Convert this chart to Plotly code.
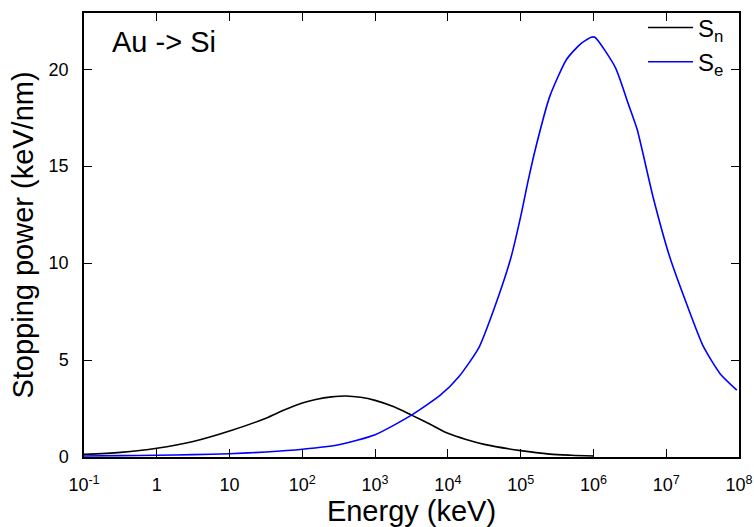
import plotly.graph_objects as go

# Energy values (keV) as log10 exponents and stopping powers (keV/nm)
sn_logE = [-1.0, -0.5, 0.0, 0.5, 1.0, 1.5, 1.75, 2.0, 2.2, 2.4, 2.6, 2.8, 3.0, 3.25, 3.5, 3.75, 4.0, 4.25, 4.5,
           5.0, 5.4, 5.7, 6.0]
sn_vals = [0.14, 0.24, 0.45, 0.8, 1.34, 2.0, 2.42, 2.78, 2.98, 3.1, 3.15, 3.08, 2.92, 2.6, 2.16, 1.7, 1.22, 0.9,
           0.65, 0.33, 0.15, 0.09, 0.05]

se_logE = [-1.0, -0.5, 0.0, 0.5, 1.0, 1.5, 2.0, 2.5, 3.0, 3.5, 3.9, 4.15, 4.42, 4.63, 4.86, 5.0, 5.1, 5.21,
           5.4, 5.63, 5.82, 5.97, 6.02, 6.3, 6.48, 6.6, 6.82, 7.05, 7.28, 7.51, 7.74, 7.97]
se_vals = [0.05, 0.07, 0.09, 0.12, 0.17, 0.26, 0.40, 0.63, 1.15, 2.16, 3.2, 4.14, 5.6, 7.6, 10.2, 12.4, 14.2, 16.0,
           18.6, 20.5, 21.3, 21.65, 21.65, 20.1, 18.2, 16.9, 13.4, 10.3, 7.9, 5.7, 4.3, 3.45]

x_tickvals = [0.1, 1, 10, 100, 1e3, 1e4, 1e5, 1e6, 1e7, 1e8]
x_ticktext = ["10<sup>-1</sup>", "1", "10", "10<sup>2</sup>", "10<sup>3</sup>", "10<sup>4</sup>",
              "10<sup>5</sup>", "10<sup>6</sup>", "10<sup>7</sup>", "10<sup>8</sup>"]
y_tickvals = [0, 5, 10, 15, 20]

sn_E = [10 ** v for v in sn_logE]
se_E = [10 ** v for v in se_logE]

FONT = "Liberation Sans, Arial, Helvetica, sans-serif"

fig = go.Figure()
fig.add_trace(go.Scatter(x=sn_E, y=sn_vals, mode="lines", name="S<sub>n</sub>",
                         line=dict(color="black", width=1.6, shape="spline", smoothing=0.8)))
fig.add_trace(go.Scatter(x=se_E, y=se_vals, mode="lines", name="S<sub>e</sub>",
                         line=dict(color="#0000ff", width=1.6, shape="spline", smoothing=0.6)))

fig.update_layout(
    width=754, height=527,
    margin=dict(l=83.5, r=15, t=13, b=70, autoexpand=False),
    paper_bgcolor="white", plot_bgcolor="white",
    font=dict(family=FONT, color="black", size=18),
    showlegend=True,
    legend=dict(x=0.8535, y=1.017, xanchor="left", yanchor="top", bgcolor="rgba(0,0,0,0)",
                font=dict(size=24, family=FONT), tracegroupgap=0, itemwidth=45),
    annotations=[dict(text="Au -> Si", x=0.04, y=0.935, xref="paper", yref="paper",
                      xanchor="left", yanchor="middle", showarrow=False,
                      font=dict(size=29, family=FONT))],
)
fig.update_xaxes(type="log", range=[-1, 8], tickvals=x_tickvals, ticktext=x_ticktext,
                 showline=True, linecolor="black", linewidth=1.5, mirror="ticks",
                 ticks="inside", ticklen=8, tickwidth=1.2, tickcolor="black",
                 showgrid=False, zeroline=False, tickfont=dict(size=18),
                 ticklabelstandoff=11, automargin=False,
                 title=dict(text="Energy (keV)", font=dict(size=29), standoff=1))
fig.update_yaxes(range=[0, 22.9], tickvals=y_tickvals,
                 showline=True, linecolor="black", linewidth=1.5, mirror="ticks",
                 ticks="inside", ticklen=8, tickwidth=1.2, tickcolor="black",
                 showgrid=False, zeroline=False, tickfont=dict(size=18),
                 ticklabelstandoff=10, automargin=False,
                 title=dict(text="Stopping power (keV/nm)", font=dict(size=29), standoff=6))

fig.write_html("out.html",
               config={"displayModeBar": False, "responsive": False},
               post_script="document.body.style.margin='0';document.body.style.overflow='hidden';"
                           "document.documentElement.style.overflow='hidden';")
